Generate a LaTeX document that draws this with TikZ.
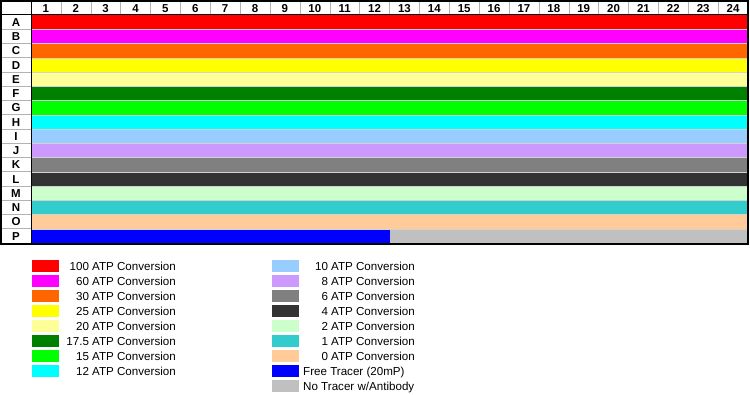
\documentclass[tikz,border=0pt]{standalone}
\usepackage{fontspec}
\setmainfont{Liberation Sans}
\usetikzlibrary{positioning}
\definecolor{cA}{HTML}{FF0000}
\definecolor{cB}{HTML}{FF00FF}
\definecolor{cC}{HTML}{FF6600}
\definecolor{cD}{HTML}{FFFF00}
\definecolor{cE}{HTML}{FFFF99}
\definecolor{cF}{HTML}{008000}
\definecolor{cG}{HTML}{00FF00}
\definecolor{cH}{HTML}{00FFFF}
\definecolor{cI}{HTML}{99CCFF}
\definecolor{cJ}{HTML}{CC99FF}
\definecolor{cK}{HTML}{808080}
\definecolor{cL}{HTML}{333333}
\definecolor{cM}{HTML}{CCFFCC}
\definecolor{cN}{HTML}{33CCCC}
\definecolor{cO}{HTML}{FFCC99}
\definecolor{cP}{HTML}{0000FF}
\definecolor{cQ}{HTML}{C0C0C0}
\tikzstyle{headlab} = [inner sep=0pt, font=\fontsize{11.5}{13}\selectfont\bfseries]
\tikzstyle{swatch} = [rectangle, draw=white, line width=0.6pt, minimum width=28pt, minimum height=13pt, inner sep=0pt]
\tikzstyle{legtext} = [inner sep=0pt, font=\fontsize{11.6}{13}\selectfont]
\tikzstyle{thin} = [draw=gray!60, line width=0.5pt]

\begin{document}
\begin{tikzpicture}[x=1pt, y=-1pt]
\useasboundingbox (0,0) rectangle (750,395);
% plate rows
\foreach \l/\c [count=\i] in {A/cA,B/cB,C/cC,D/cD,E/cE,F/cF,G/cG,H/cH,I/cI,J/cJ,K/cK,L/cL,M/cM,N/cN,O/cO,P/cP} {
  \pgfmathsetmacro{\ytop}{15+(\i-1)*14.25}
  \pgfmathsetmacro{\ybot}{15+\i*14.25}
  \pgfmathsetmacro{\ymid}{15+(\i-0.5)*14.25}
  \fill[\c] (31,\ytop) rectangle (748,\ybot);
  \draw[thin] (1,\ybot) -- (31,\ybot);
  \node (row\l) [headlab, anchor=base] at (16,\ymid+4.2) {\l};
}
\fill[cQ] (389.5,228.75) rectangle (748,243);
\foreach \i in {1,...,15} {
  \draw[gray!35, line width=0.3pt] (31,15+\i*14.25) -- (748,15+\i*14.25);
}
% column numbers
\foreach \n in {1,...,24} {
  \pgfmathsetmacro{\xl}{31+\n*29.875}
  \draw[thin] (\xl,0.5) -- (\xl,15);
  \node (col\n) [headlab, anchor=base] at (31+\n*29.875-14.94,12.3) {\n};
}
\draw[line width=1pt] (1,15) -- (748,15);
\draw[line width=1pt] (31,0.5) -- (31,243.5);
\draw[line width=1.6pt] (1,0.8) rectangle (748.2,243.8);
% legend
\foreach \t/\c [count=\i] in {100/cA,60/cB,30/cC,25/cD,20/cE,17.5/cF,15/cG,12/cH} {
  \node (swl\i) [swatch, fill=\c] at (45,251+\i*15) {};
  \node (txl\i) [legtext, anchor=base east] at (176,255.2+\i*15) {\t{} ATP Conversion};
}
\foreach \t/\c [count=\i] in {10/cI,8/cJ,6/cK,4/cL,2/cM,1/cN,0/cO} {
  \node (swr\i) [swatch, fill=\c] at (285,251+\i*15) {};
  \node (txr\i) [legtext, anchor=base east] at (415,255.2+\i*15) {\t{} ATP Conversion};
}
\node (swr8) [swatch, fill=cP] at (285,371) {};
\node (txr8) [legtext, anchor=base west] at (303,375.2) {Free Tracer (20mP)};
\node (swr9) [swatch, fill=cQ] at (285,386) {};
\node (txr9) [legtext, anchor=base west] at (303,390.2) {No Tracer w/Antibody};
\end{tikzpicture}
\end{document}
